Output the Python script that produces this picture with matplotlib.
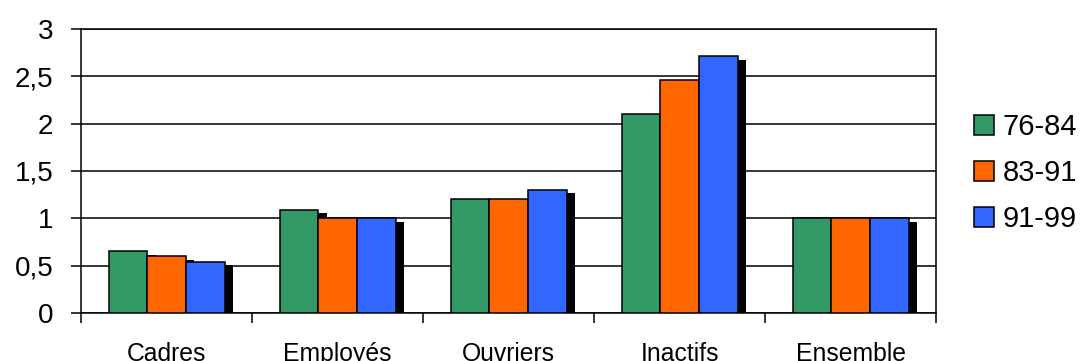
import matplotlib.pyplot as plt
import matplotlib.transforms as mtransforms
import numpy as np

plt.rcParams['font.family'] = ['Liberation Sans', 'DejaVu Sans']

categories = ['Cadres', 'Employés', 'Ouvriers', 'Inactifs', 'Ensemble']
periods = ['76-84', '83-91', '91-99']
v_76_84 = [0.65, 1.09, 1.20, 2.10, 1.00]
v_83_91 = [0.60, 1.00, 1.20, 2.46, 1.00]
v_91_99 = [0.54, 1.00, 1.30, 2.71, 1.00]
colors = ['#339966', '#FF6600', '#3366FF']
yticks = [0, 0.5, 1, 1.5, 2, 2.5, 3]

fig = plt.figure(figsize=(10.82, 3.61), dpi=100)
ax = fig.add_axes([0.0749, 0.133, 0.7902, 0.7867])

x = np.arange(len(categories))
width = 0.226
# drop shadow: shifted copies of the bars, drawn underneath
shadow = ax.transData + mtransforms.ScaledTranslation(0.085, -0.035, fig.dpi_scale_trans)

for i, (vals, col, lab) in enumerate(zip([v_76_84, v_83_91, v_91_99], colors, periods)):
    pos = x + (i - 1) * width
    ax.bar(pos, vals, width, color='black', zorder=2, transform=shadow, linewidth=0)
    ax.bar(pos, vals, width, color=col, edgecolor='black', linewidth=1.1,
           zorder=3, label=lab)

ax.set_xlim(-0.5, len(categories) - 0.5)
ax.set_ylim(0, 3)
ax.set_yticks(yticks)
ax.set_yticklabels([('%g' % t).replace('.', ',') for t in yticks], fontsize=20)
ax.yaxis.grid(True, color='black', linewidth=1.1, zorder=1)
ax.set_axisbelow(True)

ax.set_xticks(x)
ax.set_xticklabels(categories, fontsize=17.8)
ax.set_xticks(np.arange(-0.5, len(categories), 1), minor=True)
ax.tick_params(axis='x', which='major', length=0, pad=21)
ax.tick_params(axis='x', which='minor', length=7, width=1.1, direction='out')
ax.tick_params(axis='y', length=7, width=1.1, direction='out', pad=13)

for s in ax.spines.values():
    s.set_linewidth(1.1)
    s.set_color('black')

fig.legend(loc='center left', bbox_to_anchor=(0.889, 0.52), fontsize=21,
           frameon=False, handlelength=0.69, handleheight=0.69,
           handletextpad=0.3, labelspacing=0.62, borderaxespad=0)

fig.savefig('out.png', dpi=100)
